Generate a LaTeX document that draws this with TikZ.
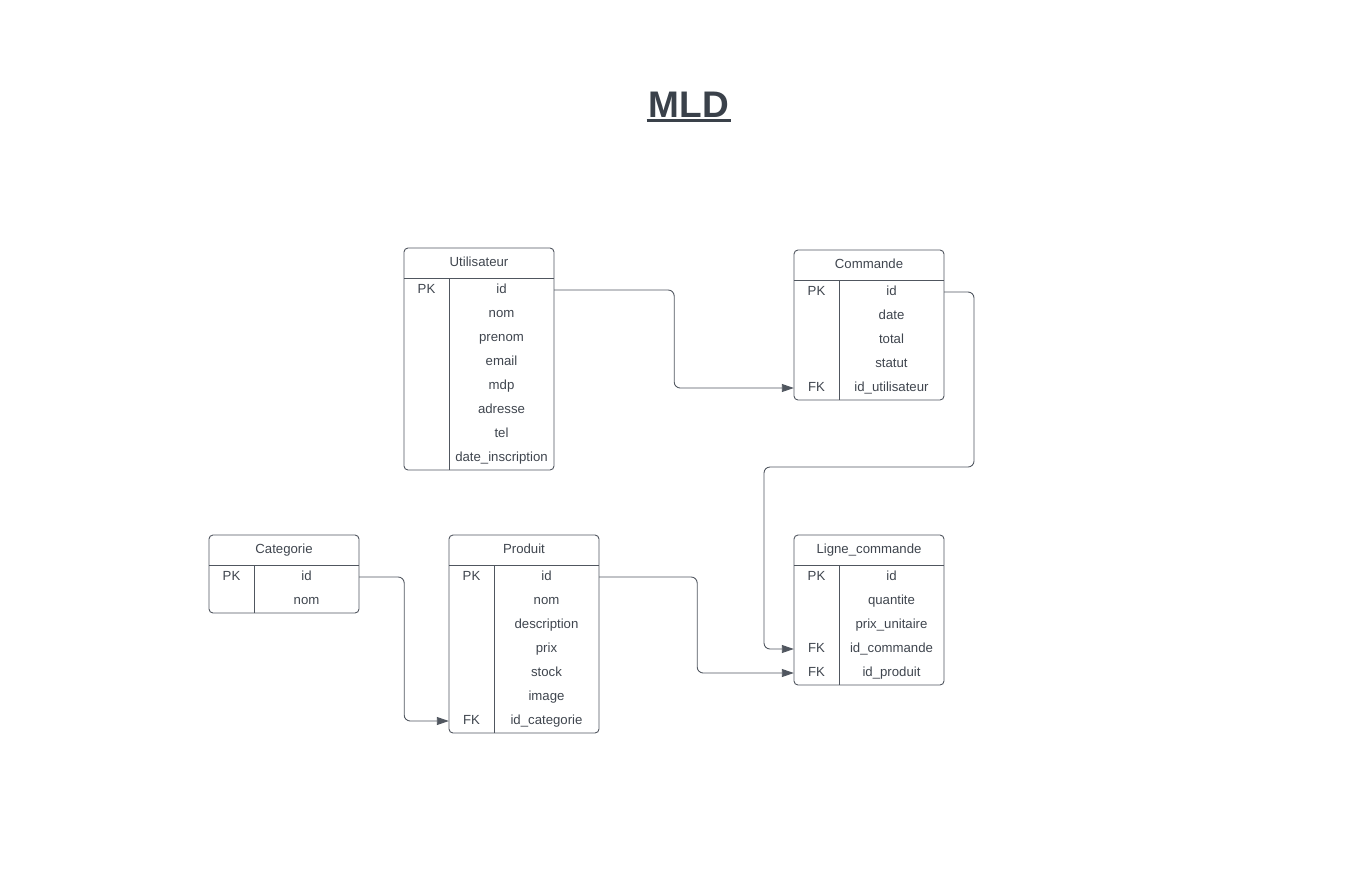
\documentclass[tikz,border=0pt]{standalone}
\usepackage{fontspec}
\setmainfont{Liberation Sans}
\usetikzlibrary{arrows.meta}
\definecolor{txt}{HTML}{3F454E}
\definecolor{ln}{HTML}{50565F}
\definecolor{ttl}{HTML}{3A414A}
\tikzset{
  tbl/.style={draw=ln, line width=0.9pt, rounded corners=4pt},
  sep/.style={draw=ln, line width=0.9pt},
  cell/.style={inner sep=0pt, minimum height=24pt, text height=10pt, text depth=3pt, text=txt, font=\fontsize{13.2}{15}\selectfont, anchor=center},
  hdr/.style={inner sep=0pt, text height=10pt, text depth=3pt, text=txt, font=\fontsize{13.2}{15}\selectfont},
  conn/.style={draw=ln, line width=0.9pt, rounded corners=6pt, -{Triangle[length=12pt,width=8pt]}},
}
% \ertable{name}{x}{y}{title}{rows}
\newcommand{\ertable}[5]{%
  \node[hdr] (#1-h) at (#2+75,#3+15) {#4};
  \foreach \k/\f [count=\i] in {#5} {%
    \node[cell, minimum width=45pt] (#1-k\i) at (#2+22.5,#3+18+24*\i) {\k};
    \node[cell, minimum width=105pt] (#1-f\i) at (#2+97.5,#3+18+24*\i) {\f};
    \xdef\nrows{\i}%
  }
  \draw[tbl] (#2,#3) rectangle (#2+150,#3+30+24*\nrows);
  \draw[sep] (#2,#3+30) -- (#2+150,#3+30);
  \draw[sep] (#2+45,#3+30) -- (#2+45,#3+30+24*\nrows);
}
\begin{document}
\begin{tikzpicture}[x=1pt,y=-1pt]
\useasboundingbox (0,0) rectangle (1365,871);
\node[inner sep=0pt, inner xsep=2pt, anchor=base, text=ttl, font=\fontsize{37}{40}\selectfont\bfseries] (title) at (689,117) {MLD};
\draw[ttl, line width=2.6pt] ([yshift=-3.5pt]title.base west) -- ([yshift=-3.5pt]title.base east);

\ertable{u}{404}{248}{Utilisateur}{PK/id,{}/nom,{}/prenom,{}/email,{}/mdp,{}/adresse,{}/tel,{}/date\_inscription}
\ertable{c}{794}{250}{Commande}{PK/id,{}/date,{}/total,{}/statut,FK/id\_utilisateur}
\ertable{g}{209}{535}{Categorie}{PK/id,{}/nom}
\ertable{p}{449}{535}{Produit}{PK/id,{}/nom,{}/description,{}/prix,{}/stock,{}/image,FK/id\_categorie}
\ertable{l}{794}{535}{Ligne\_commande}{PK/id,{}/quantite,{}/prix\_unitaire,FK/id\_commande,FK/id\_produit}

\coordinate (b1) at (974,467);
\coordinate (b2) at (764,467);
\draw[conn] (u-f1.east) -- ++(120,0) |- (c-k5.west);
\draw[conn] (c-f1.east) -| (b1) -- (b2) |- (l-k4.west);
\draw[conn] (g-f1.east) -- ++(45,0) |- (p-k7.west);
\draw[conn] (p-f1.east) -- ++(98,0) |- (l-k5.west);
\end{tikzpicture}
\end{document}
